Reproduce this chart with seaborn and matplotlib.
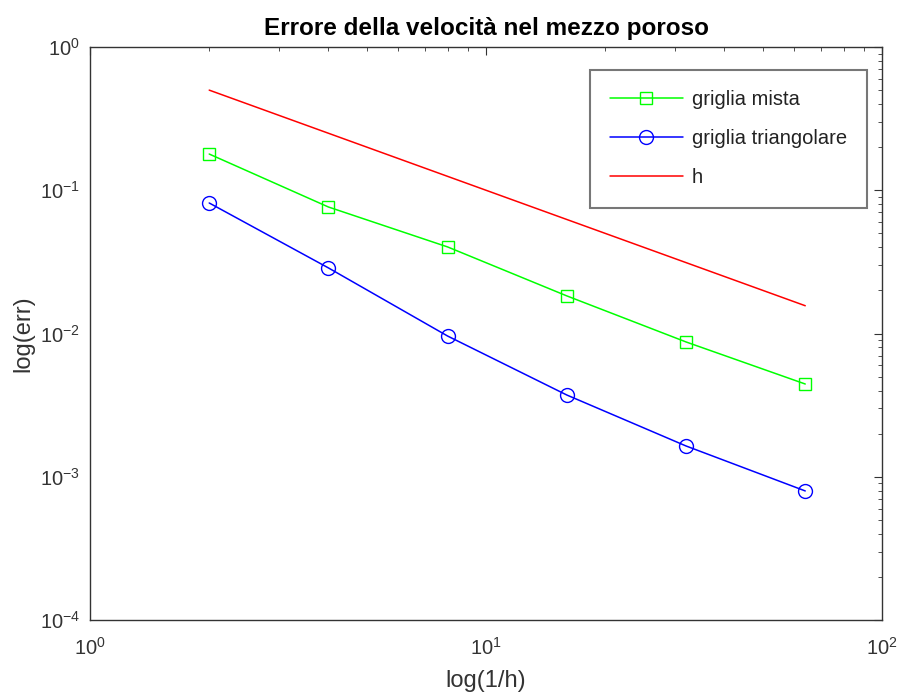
import numpy as np
import pandas as pd
import matplotlib
matplotlib.use("Agg")
import matplotlib.pyplot as plt
import matplotlib.ticker as mticker
import seaborn as sns

x_vals = [2, 4, 8, 16, 32, 64]
err_mista = [0.179, 0.0764, 0.0402, 0.0183, 0.00873, 0.00444]
err_triang = [0.0815, 0.0287, 0.0096, 0.00372, 0.00164, 0.000796]
h_vals = [1 / v for v in x_vals]

labels = ["griglia mista", "griglia triangolare", "h"]
title = "Errore della velocità nel mezzo poroso"
xlabel = "log(1/h)"
ylabel = "log(err)"

sns.set_style("white")
plt.rcParams['font.family'] = ['Liberation Sans', 'DejaVu Sans']
plt.rcParams['mathtext.fontset'] = 'custom'
plt.rcParams['mathtext.rm'] = 'Liberation Sans'
plt.rcParams['mathtext.it'] = 'Liberation Sans'
plt.rcParams['mathtext.default'] = 'regular'

AX = "#333333"

fig = plt.figure(figsize=(9.02, 6.99), dpi=100)
ax = fig.add_axes([90/902, 1 - 620/699, 792/902, 573/699])

df1 = pd.DataFrame({"x": x_vals, "y": err_mista})
df2 = pd.DataFrame({"x": x_vals, "y": err_triang})
df3 = pd.DataFrame({"x": x_vals, "y": h_vals})

sns.lineplot(data=df1, x="x", y="y", ax=ax, color="#00ff00", marker="s",
             markersize=8.5, markerfacecolor="none", markeredgecolor="#00ff00",
             markeredgewidth=1.0, linewidth=1.1, label=labels[0])
sns.lineplot(data=df2, x="x", y="y", ax=ax, color="#0000ff", marker="o",
             markersize=10, markerfacecolor="none", markeredgecolor="#0000ff",
             markeredgewidth=1.0, linewidth=1.1, label=labels[1])
sns.lineplot(data=df3, x="x", y="y", ax=ax, color="#ff0000", linewidth=1.1,
             label=labels[2])

ax.set_xscale("log")
ax.set_yscale("log")
ax.set_xlim(1, 100)
ax.set_ylim(1e-4, 1)

ax.set_title(title, fontsize=17.5, fontweight="bold", pad=9, color="black")
ax.set_xlabel(xlabel, fontsize=17, color=AX, labelpad=8)
ax.set_ylabel(ylabel, fontsize=17, color=AX, labelpad=4)

for s in ax.spines.values():
    s.set_visible(True)
    s.set_color(AX)
    s.set_linewidth(1.0)

ax.tick_params(which="both", direction="in", top=True, right=True,
               colors=AX, labelsize=14.5)
ax.tick_params(which="major", length=6)
ax.tick_params(axis="x", which="major", pad=12)
ax.tick_params(axis="y", which="major", pad=7)
ax.tick_params(which="minor", length=3)
ax.xaxis.set_minor_locator(mticker.LogLocator(base=10, subs=np.arange(2, 10), numticks=20))
ax.yaxis.set_minor_locator(mticker.LogLocator(base=10, subs=np.arange(2, 10), numticks=20))
ax.xaxis.set_minor_formatter(mticker.NullFormatter())
ax.yaxis.set_minor_formatter(mticker.NullFormatter())
ax.grid(False)

leg = ax.legend(loc="upper left", bbox_to_anchor=((590-90)/792, (620-70)/573),
                fontsize=14.5, frameon=True, fancybox=False, edgecolor="#555555",
                borderpad=1.0, labelspacing=1.0, handlelength=3.6,
                handletextpad=0.45, borderaxespad=0)
leg.get_frame().set_linewidth(1.5)
for t in leg.get_texts():
    t.set_color("#222222")

fig.savefig("out.png", dpi=100, facecolor="white")
